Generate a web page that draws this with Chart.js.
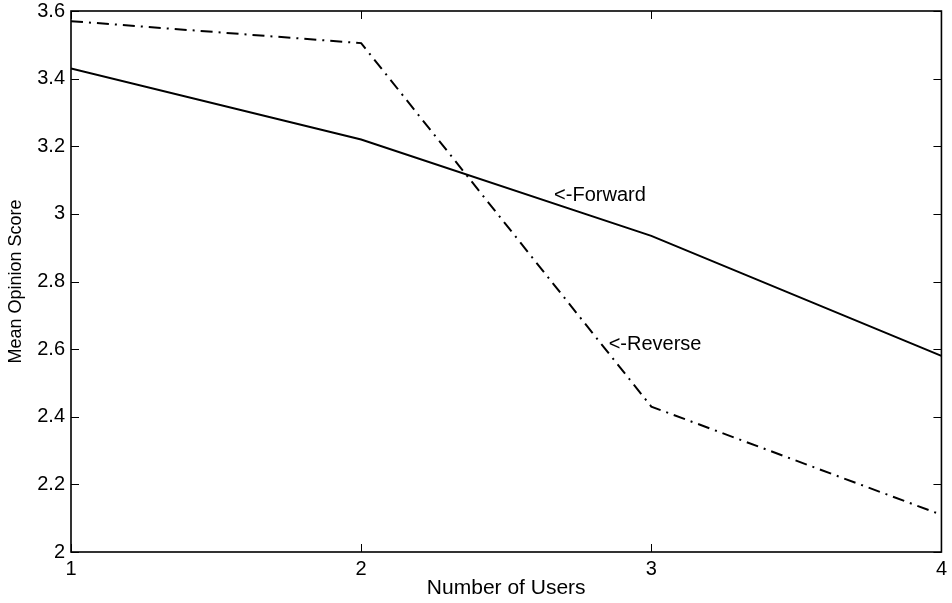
<!DOCTYPE html>
<html>
<head>
<meta charset="utf-8">
<script src="https://cdn.jsdelivr.net/npm/chart.js@4/dist/chart.umd.min.js"></script>
<style>
  html, body { margin: 0; padding: 0; background: #fff; }
  canvas { display: block; }
</style>
</head>
<body>
<canvas id="mos" width="952" height="603"></canvas>
<script>
// Mean opinion score against number of simultaneous users
const users = [1, 2, 3, 4];
const forwardScores = [3.43, 3.22, 2.935, 2.58];
const reverseScores = [3.57, 3.505, 2.43, 2.11];
const yTickValues = [2, 2.2, 2.4, 2.6, 2.8, 3, 3.2, 3.4, 3.6];

// Curve labels placed in data coordinates, pointing at their line
const curveLabels = [
  { text: '<-Forward', x: 2.665, y: 3.053 },
  { text: '<-Reverse', x: 2.853, y: 2.615 }
];

const FONT = '"Liberation Sans", Arial, Helvetica, sans-serif';
const INK = '#000';

// Full box around the plot with short inward ticks on all four sides
const framePlugin = {
  id: 'frame',
  afterDatasetsDraw(chart) {
    const { ctx, chartArea: a, scales } = chart;
    const tick = 8;
    ctx.save();
    ctx.strokeStyle = INK;
    ctx.lineWidth = 1.6;
    ctx.strokeRect(a.left, a.top, a.right - a.left, a.bottom - a.top);
    ctx.beginPath();
    scales.y.ticks.forEach(t => {
      const py = Math.round(scales.y.getPixelForValue(t.value)) + 0.5;
      ctx.moveTo(a.left, py); ctx.lineTo(a.left + tick, py);
      ctx.moveTo(a.right, py); ctx.lineTo(a.right - tick, py);
    });
    scales.x.ticks.forEach(t => {
      const px = Math.round(scales.x.getPixelForValue(t.value)) + 0.5;
      ctx.moveTo(px, a.bottom); ctx.lineTo(px, a.bottom - tick);
      ctx.moveTo(px, a.top); ctx.lineTo(px, a.top + tick);
    });
    ctx.lineWidth = 1;
    ctx.stroke();

    ctx.fillStyle = INK;
    ctx.font = '20px ' + FONT;
    ctx.textAlign = 'left';
    ctx.textBaseline = 'middle';
    curveLabels.forEach(l => {
      ctx.fillText(l.text, scales.x.getPixelForValue(l.x), scales.y.getPixelForValue(l.y));
    });
    ctx.restore();
  }
};

new Chart(document.getElementById('mos'), {
  type: 'line',
  data: {
    datasets: [
      {
        label: 'Forward',
        data: users.map((u, i) => ({ x: u, y: forwardScores[i] })),
        borderColor: INK,
        borderWidth: 2,
        pointRadius: 0,
        tension: 0
      },
      {
        label: 'Reverse',
        data: users.map((u, i) => ({ x: u, y: reverseScores[i] })),
        borderColor: INK,
        borderWidth: 2,
        borderDash: [12, 6, 2, 6],
        pointRadius: 0,
        tension: 0
      }
    ]
  },
  options: {
    responsive: false,
    animation: false,
    layout: { padding: { top: 11, right: 9, left: 0, bottom: 0 } },
    plugins: {
      legend: { display: false },
      tooltip: { enabled: false }
    },
    scales: {
      x: {
        type: 'linear',
        min: 1,
        max: 4,
        afterBuildTicks(scale) {
          scale.ticks = users.map(v => ({ value: v }));
        },
        afterFit(scale) { scale.height = 51; },
        grid: { display: false, drawTicks: false },
        border: { display: false },
        ticks: {
          color: INK,
          padding: 5,
          font: { family: FONT, size: 20 },
          callback: v => String(v)
        },
        title: {
          display: true,
          text: 'Number of Users',
          color: INK,
          font: { family: FONT, size: 21 },
          padding: { top: 0, bottom: 2 }
        }
      },
      y: {
        min: 2,
        max: 3.6,
        afterBuildTicks(scale) {
          scale.ticks = yTickValues.map(v => ({ value: v }));
        },
        afterFit(scale) { scale.width = 71; },
        grid: { display: false, drawTicks: false },
        border: { display: false },
        ticks: {
          color: INK,
          padding: 6,
          font: { family: FONT, size: 20, lineHeight: 0.5 },
          callback: v => String(Number(v.toFixed(1)))
        },
        title: {
          display: true,
          text: 'Mean Opinion Score',
          color: INK,
          font: { family: FONT, size: 18 },
          padding: { top: 5, bottom: 0 }
        }
      }
    }
  },
  plugins: [framePlugin]
});
</script>
</body>
</html>
